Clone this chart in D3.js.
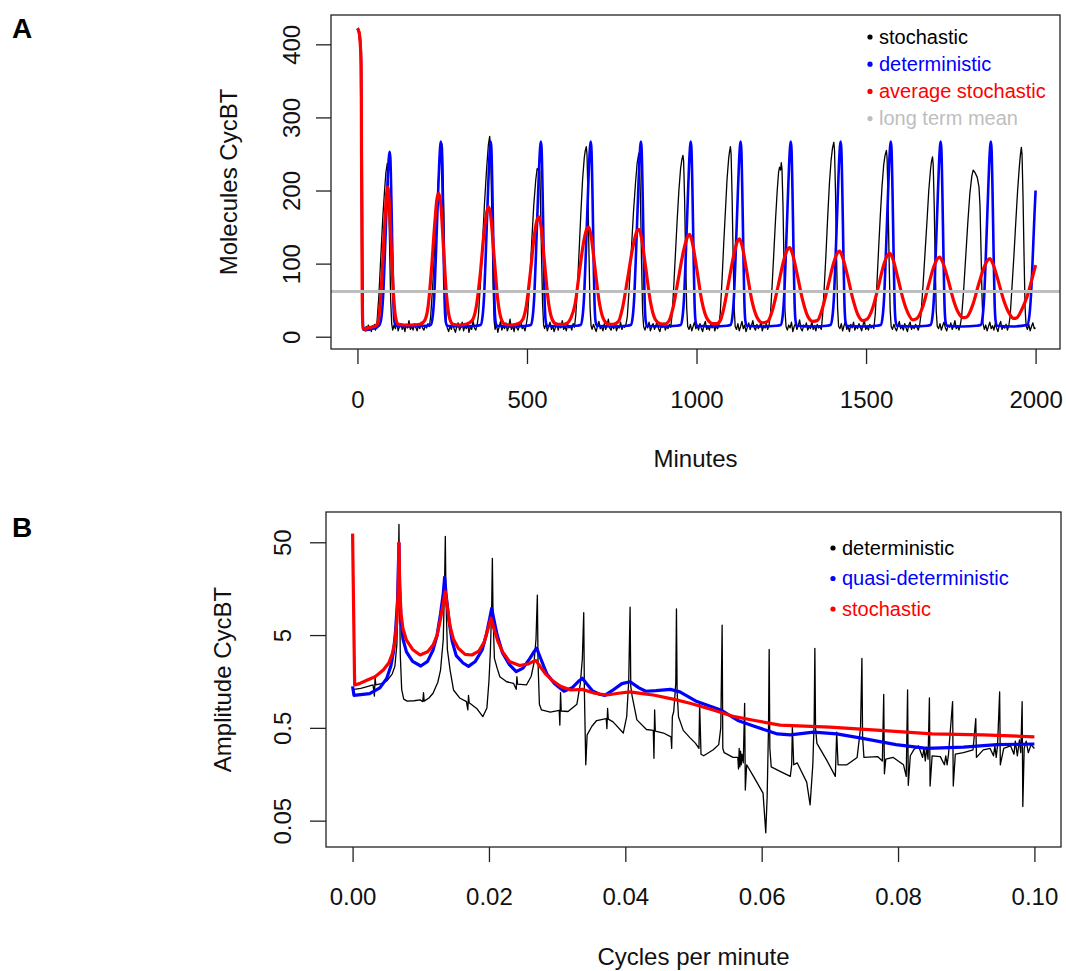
<!DOCTYPE html>
<html>
<head>
<meta charset="utf-8">
<script src="https://cdn.jsdelivr.net/npm/d3@7"></script>
<style>
  body { margin: 0; background: #fff; }
  svg { display: block; }
  text { font-family: "Liberation Sans", Arial, sans-serif; }
</style>
</head>
<body>
<svg id="chart" width="1066" height="971"></svg>
<script>
// ---- panel A data: minutes vs molecules CycBT ----
const stochastic = [
  [0,420],[4,416],[8,398],[10,385],[12,300],[13,150],[15,40],[17,9],[20,12],[23,8],[26,14],[29,10],[32,16],[35,9],[38,13],[41,7],[44,15],[47,11],[50,17],[53,9],[56,14],
  [58,22],[63,55],[69,110],[75,165],[80,200],[84,225],[88,237],[90,232],[92,190],[95,120],[98,50],[101,18],
  [104,9],[108,16],[112,11],[116,20],[120,8],[124,14],[128,18],[132,10],[136,15],[140,7],[144,17],[148,12],[152,22],[156,10],[160,14],[164,9],[168,18],[172,13],[176,8],[180,16],[184,11],[188,20],[192,12],[196,9],[200,15],[204,12],[208,18],[212,14],
  [216,28],[222,70],[228,125],[234,180],[240,225],[245,255],[249,264],[251,258],[253,215],[256,140],[259,60],[262,20],
  [265,12],[269,7],[273,15],[277,10],[281,18],[285,11],[289,6],[293,14],[297,19],[301,9],[305,13],[309,20],[313,8],[317,15],[321,11],[325,17],[329,6],[333,14],[337,10],[341,22],[345,12],[349,9],[353,16],
  [357,30],[363,75],[369,130],[375,185],[381,230],[386,262],[390,274],[392,262],[394,225],[397,150],[400,70],[403,22],
  [406,10],[410,17],[414,6],[418,14],[422,21],[426,9],[430,15],[434,11],[438,19],[442,8],[446,13],[450,24],[454,10],[458,15],[462,7],[466,18],[470,12],[474,9],[478,16],[482,21],[486,11],[490,14],[494,8],[498,17],
  [502,30],[508,75],[514,130],[520,180],[526,215],[530,230],[533,228],[536,237],[538,225],[540,180],[543,110],[546,45],[549,16],
  [552,11],[556,18],[560,8],[564,14],[568,20],[572,10],[576,15],[580,7],[584,13],[588,19],[592,9],[596,16],[600,12],[604,22],[608,10],[612,14],[616,8],[620,17],[624,12],[628,15],[632,9],[636,18],[640,13],
  [644,30],[649,70],[654,120],[659,170],[664,215],[669,245],[672,255],[675,260],[677,250],[680,190],[683,110],[686,40],[689,15],
  [692,10],[696,17],[700,12],[704,7],[708,15],[712,21],[716,11],[720,14],[724,8],[728,18],[732,10],[736,15],[740,24],[744,12],[748,9],[752,16],[756,11],[760,19],[764,8],[768,14],[772,12],[776,20],[780,10],[784,15],[788,13],[792,17],
  [796,28],[802,70],[808,120],[814,170],[820,210],[825,238],[828,246],[830,251],[832,240],[835,180],[838,100],[841,35],[844,14],
  [848,9],[852,16],[856,12],[860,20],[864,8],[868,14],[872,18],[876,10],[880,15],[884,22],[888,11],[892,7],[896,16],[900,13],[904,19],[908,9],[912,14],[916,11],[920,17],[924,13],
  [928,30],[933,70],[938,115],[943,160],[948,200],[953,230],[957,243],[960,248],[962,240],[965,185],[968,105],[971,40],[974,14],
  [978,10],[982,17],[986,8],[990,14],[994,20],[998,11],[1002,15],[1006,9],[1010,18],[1014,12],[1018,7],[1022,16],[1026,21],[1030,10],[1034,14],[1038,9],[1042,17],[1046,12],[1050,19],[1054,8],[1058,15],[1062,11],[1066,16],
  [1070,32],[1075,75],[1080,125],[1085,170],[1090,215],[1095,245],[1098,255],[1100,260],[1102,250],[1105,190],[1108,110],[1111,40],[1114,14],
  [1118,10],[1122,18],[1126,8],[1130,14],[1134,21],[1138,11],[1142,16],[1146,7],[1150,13],[1154,19],[1158,10],[1162,15],[1166,22],[1170,12],[1174,9],[1178,17],[1182,11],[1186,14],[1190,20],[1194,8],[1198,15],[1202,12],[1206,18],[1210,10],[1214,16],
  [1218,30],[1223,70],[1228,115],[1233,160],[1238,200],[1242,225],[1245,232],[1248,228],[1250,238],[1252,230],[1255,180],[1258,100],[1261,35],[1264,14],
  [1268,9],[1272,16],[1276,12],[1280,20],[1284,7],[1288,14],[1292,18],[1296,10],[1300,15],[1304,23],[1308,11],[1312,8],[1316,16],[1320,13],[1324,19],[1328,9],[1332,14],[1336,11],[1340,21],[1344,10],[1348,15],[1352,8],[1356,17],[1360,12],[1364,14],[1368,10],
  [1372,30],[1377,70],[1382,115],[1387,165],[1392,210],[1397,242],[1401,258],[1405,266],[1407,255],[1410,195],[1413,110],[1416,40],[1419,14],
  [1423,11],[1427,18],[1431,8],[1435,15],[1439,21],[1443,10],[1447,14],[1451,7],[1455,17],[1459,12],[1463,20],[1467,9],[1471,15],[1475,11],[1479,18],[1483,13],[1487,8],[1491,16],[1495,22],[1499,10],[1503,14],[1507,9],[1511,17],[1515,12],[1519,15],[1523,11],
  [1527,30],[1532,72],[1537,120],[1542,165],[1547,205],[1552,235],[1556,248],[1560,255],[1562,245],[1565,185],[1568,105],[1571,38],[1574,14],
  [1578,10],[1582,17],[1586,12],[1590,8],[1594,15],[1598,21],[1602,11],[1606,14],[1610,9],[1614,18],[1618,12],[1622,7],[1626,16],[1630,20],[1634,10],[1638,15],[1642,11],[1646,17],[1650,13],[1654,9],[1658,16],
  [1662,30],[1668,70],[1674,115],[1680,160],[1685,200],[1690,228],[1693,240],[1696,246],[1698,236],[1701,180],[1704,100],[1707,35],[1710,14],
  [1714,11],[1718,18],[1722,9],[1726,15],[1730,20],[1734,12],[1738,8],[1742,16],[1746,13],[1750,19],[1754,10],[1758,14],[1762,22],[1766,11],[1770,15],[1774,9],[1778,16],
  [1782,28],[1788,65],[1794,110],[1800,155],[1806,195],[1812,220],[1816,228],[1822,224],[1828,218],[1833,205],[1836,180],[1839,120],[1842,55],[1845,18],
  [1849,10],[1853,16],[1857,8],[1861,14],[1865,20],[1869,11],[1873,15],[1877,9],[1881,18],[1885,12],[1889,7],[1893,16],[1897,21],[1901,10],[1905,14],[1909,12],[1913,17],[1917,9],[1921,15],
  [1925,28],[1930,65],[1936,110],[1942,160],[1947,200],[1952,232],[1955,248],[1958,259],[1960,250],[1963,190],[1966,110],[1969,40],[1972,15],
  [1976,10],[1980,17],[1984,8],[1988,14],[1992,19],[1996,11],[2000,12]
];

const deterministic = [
  [0,422],[5,416],[10,390],[12,300],[14,120],[16,20],[18,10],[25,9],[35,10],[45,11],[55,12],[60,14],
  [65,16],[71,28],[76,58],[81,115],[86,178],[90,225],[93,247],[95,253],[97,245],[100,190],[103,115],[106,48],[109,21],[113,15],[150,14],[200,15],
  [216,16],[222,28],[227,60],[232,120],[237,185],[241,235],[244,260],[246,267],[248,258],[251,200],[254,120],[257,50],[260,22],[264,15],[310,14],[350,15],
  [363,16],[369,28],[374,60],[379,120],[384,185],[388,235],[391,260],[393,267],[395,258],[398,200],[401,120],[404,50],[407,22],[411,15],[460,14],[500,15],
  [511,16],[517,28],[522,60],[527,120],[532,185],[536,235],[539,260],[541,267],[543,258],[546,200],[549,120],[552,50],[555,22],[559,15],[605,14],[645,15],
  [658,16],[664,28],[669,60],[674,120],[679,185],[683,235],[686,260],[688,267],[690,258],[693,200],[696,120],[699,50],[702,22],[706,15],[755,14],[795,15],
  [806,16],[812,28],[817,60],[822,120],[827,185],[831,235],[834,260],[836,267],[838,258],[841,200],[844,120],[847,50],[850,22],[854,15],[900,14],[940,15],
  [953,16],[959,28],[964,60],[969,120],[974,185],[978,235],[981,260],[983,267],[985,258],[988,200],[991,120],[994,50],[997,22],[1001,15],[1050,14],[1090,15],
  [1100,16],[1106,28],[1111,60],[1116,120],[1121,185],[1125,235],[1128,260],[1130,267],[1132,258],[1135,200],[1138,120],[1141,50],[1144,22],[1148,15],[1195,14],[1235,15],
  [1248,16],[1254,28],[1259,60],[1264,120],[1269,185],[1273,235],[1276,260],[1278,267],[1280,258],[1283,200],[1286,120],[1289,50],[1292,22],[1296,15],[1345,14],[1385,15],
  [1395,16],[1401,28],[1406,60],[1411,120],[1416,185],[1420,235],[1423,260],[1425,267],[1427,258],[1430,200],[1433,120],[1436,50],[1439,22],[1443,15],[1490,14],[1530,15],
  [1543,16],[1549,28],[1554,60],[1559,120],[1564,185],[1568,235],[1571,260],[1573,267],[1575,258],[1578,200],[1581,120],[1584,50],[1587,22],[1591,15],[1640,14],[1680,15],
  [1690,16],[1696,28],[1701,60],[1706,120],[1711,185],[1715,235],[1718,260],[1720,267],[1722,258],[1725,200],[1728,120],[1731,50],[1734,22],[1738,15],[1785,14],[1825,15],
  [1838,16],[1844,28],[1849,60],[1854,120],[1859,185],[1863,235],[1866,260],[1868,267],[1870,258],[1873,200],[1876,120],[1879,50],[1882,22],[1886,15],[1930,14],
  [1975,16],[1982,30],[1988,70],[1993,125],[1997,170],[2000,200]
];

const averageStochastic = [
  [0,422],[5,416],[9,395],[11,370],[12,250],[14,60],[16,12],[22,10],[30,12],[40,13],[50,14],[58,17],
  [64,30],[72,80],[80,150],[86,195],[89,205],[93,190],[99,130],[106,60],[112,28],[120,17],[140,16],[160,16],[185,17],[198,22],
  [208,40],[218,90],[228,155],[235,190],[240,196],[246,180],[254,120],[263,55],[272,25],[282,17],[300,16],[320,17],[338,22],
  [350,40],[362,85],[374,145],[382,172],[387,178],[393,165],[403,110],[414,50],[425,23],[435,17],[455,16],[475,18],[488,24],
  [498,42],[510,88],[522,140],[530,160],[535,164],[541,152],[552,100],[564,45],[576,22],[588,17],[605,17],[620,19],[630,26],
  [642,45],[655,90],[668,132],[677,148],[682,150],[689,138],[701,92],[714,45],[728,22],[742,17],[755,17],[770,21],
  [782,40],[797,80],[812,122],[824,144],[830,147],[837,137],[850,95],[864,48],[878,24],[892,18],[905,17],[918,21],
  [930,38],[946,78],[962,118],[974,137],[980,140],[987,130],[1001,92],[1016,48],[1032,24],[1048,18],[1060,18],[1070,22],
  [1080,38],[1095,75],[1110,112],[1121,131],[1127,134],[1134,125],[1148,90],[1163,50],[1178,27],[1195,19],[1210,21],
  [1225,38],[1240,68],[1257,104],[1269,120],[1275,122],[1282,115],[1297,85],[1313,50],[1328,28],[1343,21],[1356,22],
  [1372,40],[1388,70],[1405,102],[1416,115],[1422,117],[1429,111],[1445,84],[1462,50],[1476,30],[1490,22],[1503,24],
  [1520,40],[1536,68],[1552,98],[1564,112],[1570,114],[1578,108],[1594,80],[1610,50],[1624,32],[1638,23],[1650,25],
  [1668,42],[1684,70],[1700,96],[1711,107],[1717,109],[1725,103],[1742,78],[1758,50],[1772,33],[1786,26],[1797,27],
  [1815,44],[1831,70],[1848,95],[1859,105],[1865,107],[1873,101],[1890,76],[1906,50],[1921,33],[1935,25],[1945,26],
  [1960,38],[1975,55],[1990,80],[2000,98]
];

const longTermMean = 62;

// ---- panel B data: cycles per minute vs amplitude CycBT ----
const specDeterministic = [
  [0,1.22],[0.0002,1.3],[0.0012,1.33],[0.0020,1.38],[0.0030,1.45],[0.0032,1.1],[0.0033,1.8],[0.0034,1.45],[0.0042,1.5],[0.0050,1.6],[0.0058,1.9],[0.0062,2.3],[0.0065,4],[0.0067,20],[0.0068,78],[0.0069,12],[0.0070,3],[0.0072,1.3],[0.0075,1.02],[0.0080,0.97],[0.0090,0.98],[0.0099,1.0],
  [0.0103,0.96],[0.0104,1.2],[0.0105,0.97],[0.0112,1.05],[0.0118,1.18],[0.0125,1.55],[0.0129,2.1],[0.0133,4.5],[0.0135,20],[0.0136,58],[0.0137,12],[0.0139,3.5],[0.0143,2.1],[0.0148,1.28],[0.0157,1.05],[0.0167,0.96],[0.0169,0.78],[0.0170,1.12],[0.0171,0.93],[0.0182,0.81],[0.0191,0.66],[0.0197,0.82],
  [0.0200,1.6],[0.0202,3.2],[0.0204,10],[0.0205,33.6],[0.0206,8],[0.0208,2.8],[0.0212,2.2],[0.0216,1.78],[0.0226,1.57],[0.0236,1.51],[0.0240,1.3],[0.0241,1.78],[0.0242,1.48],[0.0255,1.45],[0.0262,1.8],[0.0266,2.5],[0.0269,4.5],[0.0271,13.5],[0.0272,2.5],[0.0274,0.9],[0.0277,0.78],[0.0290,0.74],
  [0.0303,0.77],[0.0304,0.535],[0.0305,1.2],[0.0306,0.76],[0.0316,0.75],[0.0329,0.9],[0.0334,1.5],[0.0337,2.8],[0.0339,8.7],[0.0340,1.2],[0.0342,0.2],[0.0344,0.42],[0.0351,0.52],[0.0358,0.6],[0.0372,0.63],[0.0373,0.49],[0.0374,0.81],[0.0375,0.62],[0.0382,0.58],[0.0397,0.44],
  [0.0402,0.66],[0.0405,1.6],[0.0407,10],[0.0408,1.4],[0.0410,1.1],[0.0417,0.61],[0.0431,0.48],[0.0441,0.47],[0.0442,0.235],[0.0443,0.78],[0.0444,0.46],[0.0456,0.44],[0.0467,0.4],[0.0468,0.3],[0.0469,0.66],[0.0471,0.75],[0.0474,1.5],[0.0475,9.6],[0.0476,1.2],[0.0478,0.66],[0.0485,0.47],[0.0495,0.39],
  [0.0503,0.34],[0.0508,0.3],[0.0509,0.92],[0.0511,0.26],[0.0515,0.25],[0.0529,0.29],[0.0537,0.33],[0.0540,0.5],[0.0542,6.4],[0.0543,0.3],[0.0545,0.27],[0.0558,0.24],[0.0565,0.24],[0.0566,0.18],[0.0567,0.3],[0.0568,0.19],[0.0569,0.28],[0.0570,0.2],[0.0571,0.26],[0.0573,0.21],[0.0575,0.92],[0.0576,0.107],[0.0578,0.2],[0.0588,0.15],
  [0.0602,0.099],[0.0606,0.037],[0.0608,0.09],[0.0610,0.5],[0.0611,3.5],[0.0612,0.3],[0.0614,0.19],[0.0627,0.17],[0.0642,0.15],[0.0644,0.2],[0.0645,0.515],[0.0647,0.2],[0.0652,0.21],[0.0666,0.13],[0.0671,0.074],[0.0675,0.2],[0.0677,0.6],[0.0678,3.6],[0.0679,0.5],[0.0681,0.34],[0.0696,0.22],
  [0.0708,0.15],[0.0710,0.45],[0.0712,0.2],[0.0725,0.2],[0.0740,0.24],[0.0745,0.5],[0.0747,2.8],[0.0748,0.4],[0.0750,0.24],[0.0770,0.245],[0.0777,0.22],[0.0779,1.15],[0.0780,0.16],[0.0782,0.23],[0.0793,0.24],
  [0.0808,0.2],[0.0812,0.15],[0.0814,1.28],[0.0815,0.12],[0.0818,0.25],[0.0823,0.29],[0.0830,0.32],[0.0836,0.24],[0.0838,0.3],[0.0840,0.22],[0.0842,0.31],[0.0844,0.23],[0.0846,1.05],[0.0847,0.118],[0.0850,0.25],[0.0862,0.245],[0.0868,0.2],[0.0870,0.25],[0.0872,0.2],[0.0874,0.26],[0.0880,0.96],[0.0881,0.118],[0.0884,0.26],[0.0896,0.27],
  [0.0910,0.29],[0.0914,0.63],[0.0915,0.24],[0.0925,0.29],[0.0935,0.3],[0.0940,0.25],[0.0942,0.32],[0.0944,0.24],[0.0946,0.33],[0.0949,1.22],[0.0950,0.2],[0.0955,0.3],[0.0965,0.32],[0.0970,0.26],[0.0972,0.36],[0.0975,0.25],[0.0978,0.37],[0.0980,0.27],[0.0982,0.96],[0.0983,0.071],[0.0985,0.3],[0.0988,0.36],[0.0991,0.27],[0.0995,0.33],[0.1,0.3]
];

const specQuasi = [
  [0,1.4],[0.0002,1.12],[0.0025,1.17],[0.0040,1.35],[0.0050,1.7],[0.0056,2.3],[0.0060,3.3],[0.0063,5.5],[0.0066,12],[0.0068,49],[0.0069,16],[0.0071,7.5],[0.0074,4.5],[0.0079,3.3],[0.0088,2.6],[0.0100,2.32],
  [0.0110,2.6],[0.0118,3.45],[0.0124,5],[0.0129,8.5],[0.0133,14],[0.0135,21],[0.0137,14],[0.0141,7.5],[0.0146,4.3],[0.0152,3.0],[0.0162,2.5],[0.0170,2.3],[0.0180,2.6],[0.0190,3.45],[0.0196,5],[0.0201,7.5],[0.0204,9.7],[0.0207,7.5],[0.0212,5],[0.0220,3.2],[0.0230,2.4],[0.0240,2.02],
  [0.0250,2.2],[0.0260,2.8],[0.0266,3.3],[0.0270,3.6],[0.0275,2.9],[0.0285,1.9],[0.0296,1.5],[0.0310,1.24],[0.0322,1.35],[0.0332,1.6],[0.0337,1.71],[0.0343,1.5],[0.0352,1.25],[0.0362,1.15],[0.0370,1.12],[0.0380,1.25],[0.0395,1.5],[0.0407,1.57],[0.0420,1.35],[0.0430,1.24],[0.0445,1.26],[0.0466,1.3],
  [0.0480,1.22],[0.0505,0.96],[0.0540,0.78],[0.0565,0.6],[0.0589,0.52],[0.0623,0.43],[0.0642,0.42],[0.0676,0.45],[0.0710,0.43],[0.0748,0.385],[0.0797,0.33],[0.0842,0.30],[0.0896,0.31],[0.0945,0.33],[0.1,0.335]
];

const specStochastic = [
  [0,62],[0.0003,1.45],[0.0010,1.5],[0.0020,1.62],[0.0033,1.78],[0.0045,2.1],[0.0053,2.5],[0.0058,3.1],[0.0062,4.2],[0.0065,7],[0.0067,16],[0.0068,49],[0.0069,18],[0.0071,8.5],[0.0074,5.8],[0.0079,4.4],[0.0088,3.5],[0.0099,3.05],
  [0.0110,3.3],[0.0118,3.9],[0.0124,5],[0.0129,7.5],[0.0133,11],[0.0136,14.7],[0.0139,10],[0.0143,6.2],[0.0148,4.5],[0.0155,3.6],[0.0165,3.1],[0.0175,3.05],[0.0185,3.35],[0.0193,4.2],[0.0199,6],[0.0203,7.6],[0.0207,6],[0.0213,4.3],[0.0220,3.3],[0.0230,2.6],[0.0245,2.35],
  [0.0258,2.45],[0.0265,2.6],[0.0269,2.65],[0.0274,2.35],[0.0282,1.95],[0.0292,1.64],[0.0305,1.40],[0.0320,1.28],[0.0337,1.30],[0.0355,1.18],[0.0373,1.13],[0.0390,1.18],[0.0407,1.22],[0.0425,1.17],[0.0441,1.13],[0.0470,1.02],[0.0495,0.92],
  [0.0529,0.78],[0.0560,0.66],[0.0590,0.6],[0.0627,0.535],[0.0700,0.51],[0.0774,0.47],[0.0850,0.43],[0.0925,0.42],[0.1,0.40]
];

// ticks and legends
const ticksAx = [0, 500, 1000, 1500, 2000];
const ticksAy = [0, 100, 200, 300, 400];
const ticksBx = [0, 0.02, 0.04, 0.06, 0.08, 0.10];
const ticksBy = [0.05, 0.5, 5, 50];
const legendA = [
  { label: "stochastic", color: "#000000" },
  { label: "deterministic", color: "#0000FF" },
  { label: "average stochastic", color: "#FF0000" },
  { label: "long term mean", color: "#BEBEBE" }
];
const legendB = [
  { label: "deterministic", color: "#000000" },
  { label: "quasi-deterministic", color: "#0000FF" },
  { label: "stochastic", color: "#FF0000" }
];

const svg = d3.select("#chart");

// ---------------- Panel A ----------------
const boxA = { left: 331, right: 1060, top: 15, bottom: 349 };
const xA = d3.scaleLinear().domain([-78, 2072]).range([boxA.left, boxA.right]);
const yA = d3.scaleLinear().domain([-16.8, 440.1]).range([boxA.bottom, boxA.top]);

svg.append("clipPath").attr("id", "clipA")
  .append("rect")
  .attr("x", boxA.left).attr("y", boxA.top)
  .attr("width", boxA.right - boxA.left).attr("height", boxA.bottom - boxA.top);

const gA = svg.append("g").attr("clip-path", "url(#clipA)");
const lineA = d3.line().x(d => xA(d[0])).y(d => yA(d[1]));

gA.append("path").datum(stochastic)
  .attr("d", lineA)
  .attr("fill", "none").attr("stroke", "#000").attr("stroke-width", 1.3)
  .attr("stroke-linejoin", "round");

gA.append("path").datum(deterministic)
  .attr("d", lineA.curve(d3.curveMonotoneX))
  .attr("fill", "none").attr("stroke", "#0000FF").attr("stroke-width", 2.6)
  .attr("stroke-linejoin", "round");

gA.append("path").datum(averageStochastic)
  .attr("d", lineA.curve(d3.curveMonotoneX))
  .attr("fill", "none").attr("stroke", "#FF0000").attr("stroke-width", 3.2)
  .attr("stroke-linejoin", "round");

gA.append("line")
  .attr("x1", boxA.left).attr("x2", boxA.right)
  .attr("y1", yA(longTermMean)).attr("y2", yA(longTermMean))
  .attr("stroke", "#BEBEBE").attr("stroke-width", 3);

svg.append("rect")
  .attr("x", boxA.left).attr("y", boxA.top)
  .attr("width", boxA.right - boxA.left).attr("height", boxA.bottom - boxA.top)
  .attr("fill", "none").attr("stroke", "#222").attr("stroke-width", 1.3);

const axAx = svg.append("g")
  .attr("transform", `translate(0,${boxA.bottom})`)
  .call(d3.axisBottom(xA).tickValues(ticksAx).tickSize(15).tickFormat(d3.format("d")));
axAx.select(".domain").remove();
axAx.selectAll("line").attr("stroke", "#222").attr("stroke-width", 1.3);
axAx.selectAll("text").attr("y", 59).attr("dy", null)
  .attr("font-size", 24).attr("fill", "#111");

const axAy = svg.append("g")
  .attr("transform", `translate(${boxA.left},0)`)
  .call(d3.axisLeft(yA).tickValues(ticksAy).tickSize(15).tickFormat(d3.format("d")));
axAy.select(".domain").remove();
axAy.selectAll("line").attr("stroke", "#222").attr("stroke-width", 1.3);
axAy.selectAll("text")
  .attr("x", null).attr("dy", null)
  .attr("transform", "translate(-31,0) rotate(-90)")
  .attr("text-anchor", "middle")
  .attr("font-size", 24).attr("fill", "#111");

svg.append("text")
  .attr("x", (boxA.left + boxA.right) / 2).attr("y", 467)
  .attr("text-anchor", "middle").attr("font-size", 24).attr("fill", "#111")
  .text("Minutes");

svg.append("text")
  .attr("transform", `translate(237,${(boxA.top + boxA.bottom) / 2}) rotate(-90)`)
  .attr("text-anchor", "middle").attr("font-size", 24).attr("fill", "#111")
  .text("Molecules CycBT");

svg.append("text")
  .attr("x", 12).attr("y", 38)
  .attr("font-size", 28).attr("font-weight", "bold")
  .text("A");

const legA = svg.append("g").attr("transform", "translate(870,37)");
legendA.forEach((d, i) => {
  const item = legA.append("g").attr("transform", `translate(0,${i * 27.2})`);
  item.append("circle").attr("r", 2.6).attr("fill", d.color);
  item.append("text").attr("x", 9).attr("y", 6.5)
    .attr("font-size", 20).attr("fill", d.color).text(d.label);
});

// ---------------- Panel B ----------------
const boxB = { left: 326, right: 1061, top: 512, bottom: 847 };
const xB = d3.scaleLinear().domain([-0.0039, 0.1039]).range([boxB.left, boxB.right]);
const yB = d3.scaleLog().domain([0.026, 106]).range([boxB.bottom, boxB.top]);

svg.append("clipPath").attr("id", "clipB")
  .append("rect")
  .attr("x", boxB.left).attr("y", boxB.top)
  .attr("width", boxB.right - boxB.left).attr("height", boxB.bottom - boxB.top);

const gB = svg.append("g").attr("clip-path", "url(#clipB)");
const lineB = d3.line().x(d => xB(d[0])).y(d => yB(d[1]));

gB.append("path").datum(specDeterministic)
  .attr("d", lineB)
  .attr("fill", "none").attr("stroke", "#000").attr("stroke-width", 1.3)
  .attr("stroke-linejoin", "round");

gB.append("path").datum(specQuasi)
  .attr("d", lineB)
  .attr("fill", "none").attr("stroke", "#0000FF").attr("stroke-width", 3.2)
  .attr("stroke-linejoin", "round");

gB.append("path").datum(specStochastic)
  .attr("d", lineB)
  .attr("fill", "none").attr("stroke", "#FF0000").attr("stroke-width", 3.2)
  .attr("stroke-linejoin", "round");

svg.append("rect")
  .attr("x", boxB.left).attr("y", boxB.top)
  .attr("width", boxB.right - boxB.left).attr("height", boxB.bottom - boxB.top)
  .attr("fill", "none").attr("stroke", "#222").attr("stroke-width", 1.3);

const axBx = svg.append("g")
  .attr("transform", `translate(0,${boxB.bottom})`)
  .call(d3.axisBottom(xB).tickValues(ticksBx).tickSize(15).tickFormat(d3.format(".2f")));
axBx.select(".domain").remove();
axBx.selectAll("line").attr("stroke", "#222").attr("stroke-width", 1.3);
axBx.selectAll("text").attr("y", 58).attr("dy", null)
  .attr("font-size", 24).attr("fill", "#111");

const axBy = svg.append("g")
  .attr("transform", `translate(${boxB.left},0)`)
  .call(d3.axisLeft(yB).tickValues(ticksBy).tickSize(16).tickFormat(d => String(d)));
axBy.select(".domain").remove();
axBy.selectAll("line").attr("stroke", "#222").attr("stroke-width", 1.3);
axBy.selectAll("text")
  .attr("x", null).attr("dy", null)
  .attr("transform", "translate(-35,0) rotate(-90)")
  .attr("text-anchor", "middle")
  .attr("font-size", 24).attr("fill", "#111");

svg.append("text")
  .attr("x", (boxB.left + boxB.right) / 2).attr("y", 965)
  .attr("text-anchor", "middle").attr("font-size", 24).attr("fill", "#111")
  .text("Cycles per minute");

svg.append("text")
  .attr("transform", `translate(231,${(boxB.top + boxB.bottom) / 2}) rotate(-90)`)
  .attr("text-anchor", "middle").attr("font-size", 24).attr("fill", "#111")
  .text("Amplitude CycBT");

svg.append("text")
  .attr("x", 12).attr("y", 537)
  .attr("font-size", 28).attr("font-weight", "bold")
  .text("B");

const legB = svg.append("g").attr("transform", "translate(833,548)");
legendB.forEach((d, i) => {
  const item = legB.append("g").attr("transform", `translate(0,${i * 30.5})`);
  item.append("circle").attr("r", 2.6).attr("fill", d.color);
  item.append("text").attr("x", 9).attr("y", 6.5)
    .attr("font-size", 20).attr("fill", d.color).text(d.label);
});
</script>
</body>
</html>
